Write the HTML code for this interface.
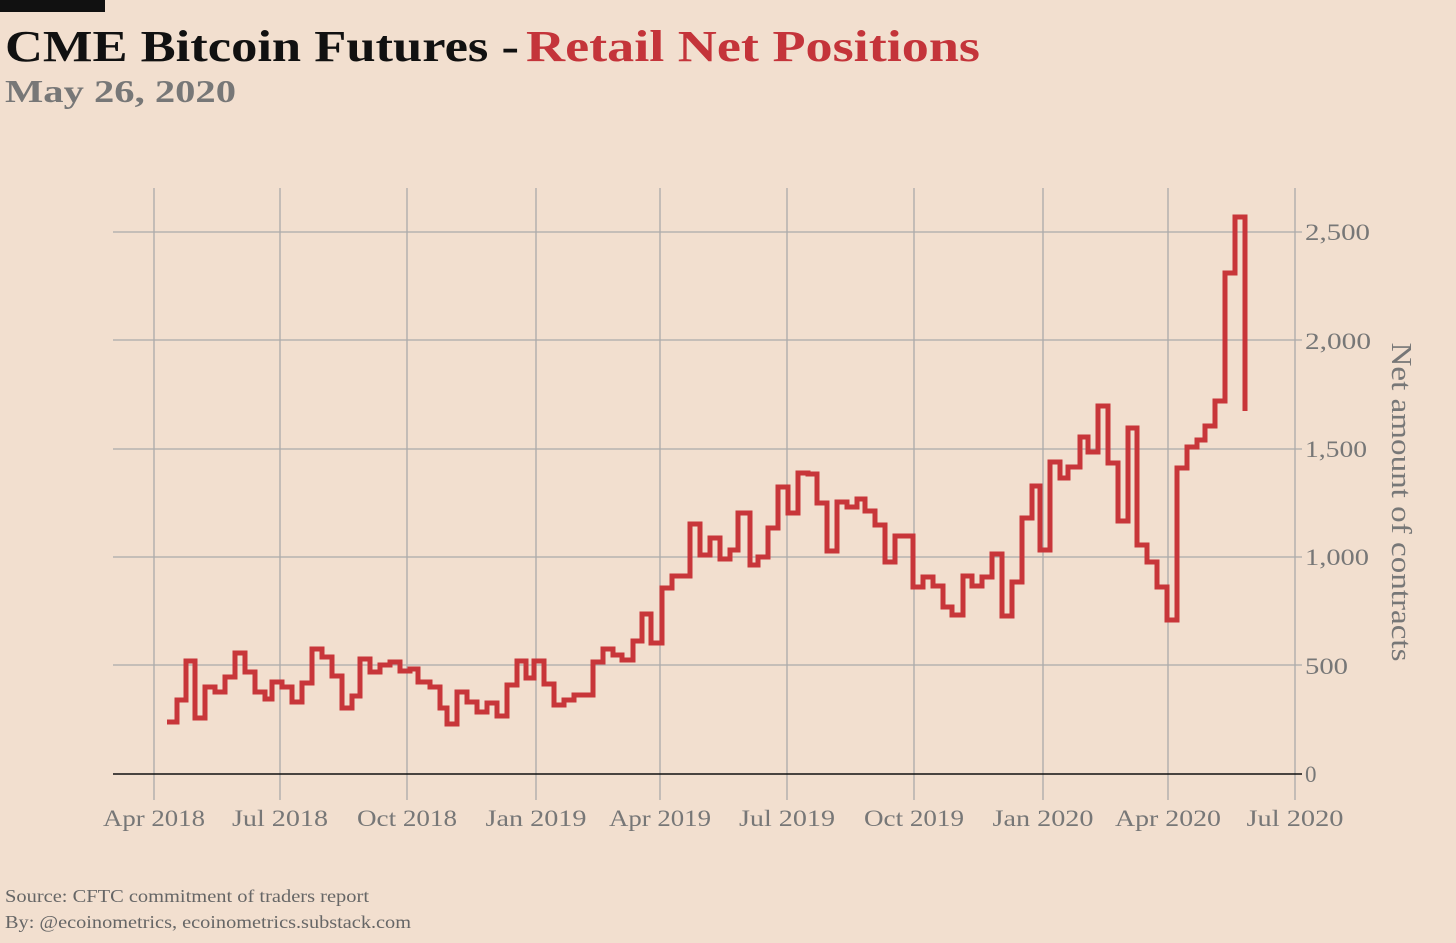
<!DOCTYPE html>
<html><head><meta charset="utf-8"><style>
html,body{margin:0;padding:0;background:#f2dfcf;}
body{width:1456px;height:943px;overflow:hidden;position:relative;font-family:"Liberation Serif",serif;}
</style></head><body>
<svg width="1456" height="943" xmlns="http://www.w3.org/2000/svg" style="position:absolute;left:0;top:0">
<rect x="0" y="0" width="1456" height="943" fill="#f2dfcf"/>
<rect x="0" y="0" width="105" height="12" fill="#111"/>
<text x="5" y="61" font-family="Liberation Serif,serif" font-weight="bold" font-size="44" fill="#111" textLength="514" lengthAdjust="spacingAndGlyphs">CME Bitcoin Futures -</text>
<text x="526" y="61" font-family="Liberation Serif,serif" font-weight="bold" font-size="44" fill="#c4343a" textLength="454" lengthAdjust="spacingAndGlyphs">Retail Net Positions</text>
<text x="5" y="102" font-family="Liberation Serif,serif" font-weight="bold" font-size="32" fill="#777" textLength="231" lengthAdjust="spacingAndGlyphs">May 26, 2020</text>
<g stroke="#aaa" stroke-width="1.3">
<line x1="154" y1="188" x2="154" y2="800"/><line x1="280" y1="188" x2="280" y2="800"/>
<line x1="407" y1="188" x2="407" y2="800"/><line x1="536" y1="188" x2="536" y2="800"/>
<line x1="660" y1="188" x2="660" y2="800"/><line x1="787" y1="188" x2="787" y2="800"/>
<line x1="914" y1="188" x2="914" y2="800"/><line x1="1043" y1="188" x2="1043" y2="800"/>
<line x1="1168" y1="188" x2="1168" y2="800"/><line x1="1295" y1="188" x2="1295" y2="800"/>
<line x1="113" y1="232" x2="1302" y2="232"/><line x1="113" y1="340" x2="1302" y2="340"/>
<line x1="113" y1="449" x2="1302" y2="449"/><line x1="113" y1="557" x2="1302" y2="557"/>
<line x1="113" y1="665" x2="1302" y2="665"/>
</g>
<line x1="113" y1="774" x2="1302" y2="774" stroke="#111" stroke-width="1.5"/>
<path fill="none" stroke="#c8363a" stroke-width="5" stroke-linejoin="miter" d="M167 722 H177 V700 H186 V661 H195 V718 H205 V687 H215 V692 H225 V677 H235 V653 H245 V672 H255 V692 H265 V699 H272 V682 H282 V687 H292 V702 H302 V683 H312 V649 H322 V657 H332 V676 H342 V708 H352 V696 H360 V659 H370 V672 H380 V665 H390 V662 H400 V671 H410 V669 H418 V682 H430 V687 H440 V708 H447 V724 H457 V692 H467 V702 H477 V712 H487 V703 H497 V716 H507 V685 H517 V661 H526 V678 H534 V661 H544 V684 H554 V705 H564 V700 H574 V695 H593 V662 H603 V649 H613 V655 H622 V660 H633 V641 H642 V614 H651 V643 H662 V588 H672 V576 H690 V524 H700 V555 H710 V538 H720 V559 H730 V550 H738 V513 H750 V565 H758 V557 H768 V528 H778 V487 H788 V513 H798 V473 H808 V474 H817 V503 H827 V551 H837 V502 H847 V507 H857 V499 H865 V511 H875 V525 H885 V562 H895 V536 H913 V587 H923 V577 H933 V586 H943 V607 H952 V615 H963 V576 H972 V586 H982 V577 H992 V554 H1002 V616 H1012 V582 H1022 V518 H1032 V486 H1040 V550 H1050 V462 H1060 V478 H1068 V467 H1080 V437 H1088 V452 H1098 V406 H1108 V463 H1118 V521 H1128 V428 H1137 V545 H1147 V562 H1157 V587 H1167 V620 H1177 V468 H1187 V447 H1197 V440 H1205 V426 H1215 V401 H1225 V273 H1235 V217 H1245 V411"/>
<g font-family="Liberation Serif,serif" font-size="23" fill="#777" lengthAdjust="spacingAndGlyphs">
<text x="1305" y="240" textLength="65" lengthAdjust="spacingAndGlyphs">2,500</text><text x="1305" y="349" textLength="66" lengthAdjust="spacingAndGlyphs">2,000</text>
<text x="1305" y="457" textLength="62" lengthAdjust="spacingAndGlyphs">1,500</text><text x="1305" y="565" textLength="64" lengthAdjust="spacingAndGlyphs">1,000</text>
<text x="1305" y="674" textLength="43" lengthAdjust="spacingAndGlyphs">500</text><text x="1305" y="782">0</text>
<g text-anchor="middle">
<text x="154" y="826" textLength="102" lengthAdjust="spacingAndGlyphs">Apr 2018</text><text x="280" y="826" textLength="96" lengthAdjust="spacingAndGlyphs">Jul 2018</text>
<text x="407" y="826" textLength="100" lengthAdjust="spacingAndGlyphs">Oct 2018</text><text x="536" y="826" textLength="101" lengthAdjust="spacingAndGlyphs">Jan 2019</text>
<text x="660" y="826" textLength="102" lengthAdjust="spacingAndGlyphs">Apr 2019</text><text x="787" y="826" textLength="96" lengthAdjust="spacingAndGlyphs">Jul 2019</text>
<text x="914" y="826" textLength="100" lengthAdjust="spacingAndGlyphs">Oct 2019</text><text x="1043" y="826" textLength="101" lengthAdjust="spacingAndGlyphs">Jan 2020</text>
<text x="1168" y="826" textLength="106" lengthAdjust="spacingAndGlyphs">Apr 2020</text><text x="1295" y="826" textLength="97" lengthAdjust="spacingAndGlyphs">Jul 2020</text>
</g>
</g>
<text transform="translate(1392,502) rotate(90)" text-anchor="middle" font-family="Liberation Serif,serif" font-size="28" fill="#777" textLength="319" lengthAdjust="spacingAndGlyphs">Net amount of contracts</text>
<text x="5" y="902" font-family="Liberation Serif,serif" font-size="18" fill="#666" textLength="364" lengthAdjust="spacingAndGlyphs">Source: CFTC commitment of traders report</text>
<text x="5" y="928" font-family="Liberation Serif,serif" font-size="18" fill="#666" textLength="406" lengthAdjust="spacingAndGlyphs">By: @ecoinometrics, ecoinometrics.substack.com</text>
</svg>
</body></html>
